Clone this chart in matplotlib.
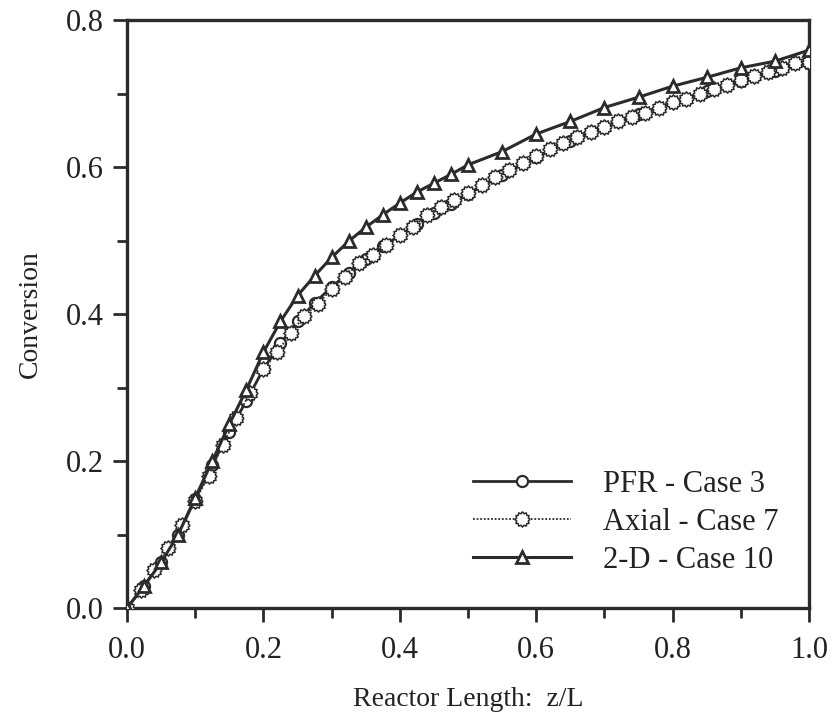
import numpy as np
import matplotlib
matplotlib.use('Agg')
import matplotlib.pyplot as plt
from matplotlib.path import Path
from matplotlib.ticker import MultipleLocator

# ─────────────────────────────────────────────
# data
# ─────────────────────────────────────────────
z_pfr = [0.0, 0.025, 0.05, 0.075, 0.1, 0.125, 0.15, 0.175, 0.2, 0.225, 0.25,
         0.275, 0.3, 0.325, 0.35, 0.375, 0.4, 0.425, 0.45, 0.475, 0.5,
         0.55, 0.6, 0.65, 0.7, 0.75, 0.8, 0.85, 0.9, 0.95, 1.0]
x_pfr = [0.0, 0.03, 0.063, 0.10, 0.148, 0.195, 0.24, 0.282, 0.325, 0.36, 0.39,
         0.415, 0.437, 0.456, 0.475, 0.492, 0.507, 0.522, 0.537, 0.55, 0.563,
         0.589, 0.613, 0.636, 0.655, 0.672, 0.688, 0.703, 0.717, 0.73, 0.742]

z_axial = [0.0, 0.02, 0.04, 0.06, 0.08, 0.10, 0.12, 0.14, 0.16, 0.18, 0.20,
           0.22, 0.24, 0.26, 0.28, 0.30, 0.32, 0.34, 0.36, 0.38, 0.40,
           0.42, 0.44, 0.46, 0.48, 0.50, 0.52, 0.54, 0.56, 0.58, 0.60,
           0.62, 0.64, 0.66, 0.68, 0.70, 0.72, 0.74, 0.76, 0.78, 0.80,
           0.82, 0.84, 0.86, 0.88, 0.90, 0.92, 0.94, 0.96, 0.98, 1.00]
x_axial = [0.0, 0.025, 0.052, 0.082, 0.113, 0.146, 0.18, 0.222, 0.258, 0.292, 0.325,
           0.348, 0.374, 0.397, 0.414, 0.434, 0.451, 0.469, 0.480, 0.494, 0.507,
           0.519, 0.535, 0.546, 0.555, 0.565, 0.575, 0.586, 0.596, 0.605, 0.615,
           0.624, 0.633, 0.641, 0.648, 0.655, 0.662, 0.668, 0.674, 0.681, 0.688,
           0.693, 0.700, 0.706, 0.712, 0.718, 0.724, 0.729, 0.735, 0.741, 0.743]

z_2d = [0.0, 0.025, 0.05, 0.075, 0.1, 0.125, 0.15, 0.175, 0.2, 0.225, 0.25,
        0.275, 0.3, 0.325, 0.35, 0.375, 0.4, 0.425, 0.45, 0.475, 0.5,
        0.55, 0.6, 0.65, 0.7, 0.75, 0.8, 0.85, 0.9, 0.95, 1.0]
x_2d = [0.0, 0.03, 0.062, 0.10, 0.15, 0.20, 0.25, 0.297, 0.348, 0.39, 0.425,
        0.452, 0.477, 0.499, 0.518, 0.535, 0.551, 0.566, 0.578, 0.59, 0.603,
        0.621, 0.645, 0.662, 0.681, 0.695, 0.71, 0.722, 0.735, 0.744, 0.759]

labels = ['PFR - Case 3', 'Axial - Case 7', '2-D - Case 10']

# ─────────────────────────────────────────────
# style
# ─────────────────────────────────────────────
plt.rcParams['font.family'] = ['Liberation Serif', 'DejaVu Serif']
ink = '#2b2b2b'
txt = '#222222'

# scalloped "gear" marker for the axial series
ang = np.linspace(0, 2 * np.pi, 25)
rad = np.where(np.arange(25) % 2 == 0, 1.0, 0.78)
gear = Path(np.column_stack([rad * np.cos(ang), rad * np.sin(ang)]))

fig = plt.figure(figsize=(8.33, 7.16), dpi=100)
ax = fig.add_axes([0.1525, 0.1508, 0.8187, 0.8212])

ax.plot(z_pfr, x_pfr, color=ink, lw=2.0, marker='o', ms=8, mfc='white',
        mec=ink, mew=1.6, label=labels[0], zorder=2)
ax.plot(z_axial, x_axial, color=ink, lw=1.3, ls=(0, (1, 1)), marker=gear, ms=11,
        mfc='white', mec=ink, mew=1.1, label=labels[1], zorder=3)
ax.plot(z_2d, x_2d, color=ink, lw=2.2, marker='^', ms=8, mfc='white',
        mec=ink, mew=2.0, label=labels[2], zorder=4)

ax.set_xlim(0, 1.0)
ax.set_ylim(0, 0.8)
ax.xaxis.set_major_locator(MultipleLocator(0.2))
ax.xaxis.set_minor_locator(MultipleLocator(0.1))
ax.yaxis.set_major_locator(MultipleLocator(0.2))
ax.yaxis.set_minor_locator(MultipleLocator(0.1))
ax.xaxis.set_major_formatter(plt.FormatStrFormatter('%.1f'))
ax.yaxis.set_major_formatter(plt.FormatStrFormatter('%.1f'))

ax.tick_params(which='both', direction='out', top=False, right=False,
               width=2, color=ink, labelsize=22, labelcolor=txt)
ax.tick_params(which='major', length=10)
ax.tick_params(which='minor', length=7)
ax.tick_params(axis='x', which='major', pad=10)
ax.tick_params(axis='y', which='major', pad=7)
for s in ax.spines.values():
    s.set_linewidth(2.4)
    s.set_color(ink)

ax.set_xlabel('Reactor Length:  z/L', fontsize=20, labelpad=16, color=txt)
ax.set_ylabel('Conversion', fontsize=20, labelpad=16, color=txt)

ax.legend(loc='center left', bbox_to_anchor=(0.485, 0.146), frameon=False,
          borderpad=0, fontsize=22, handlelength=3.2, handletextpad=1.05,
          labelspacing=0.3, numpoints=1, labelcolor=txt)

plt.savefig('out.png', dpi=100)
plt.close()
